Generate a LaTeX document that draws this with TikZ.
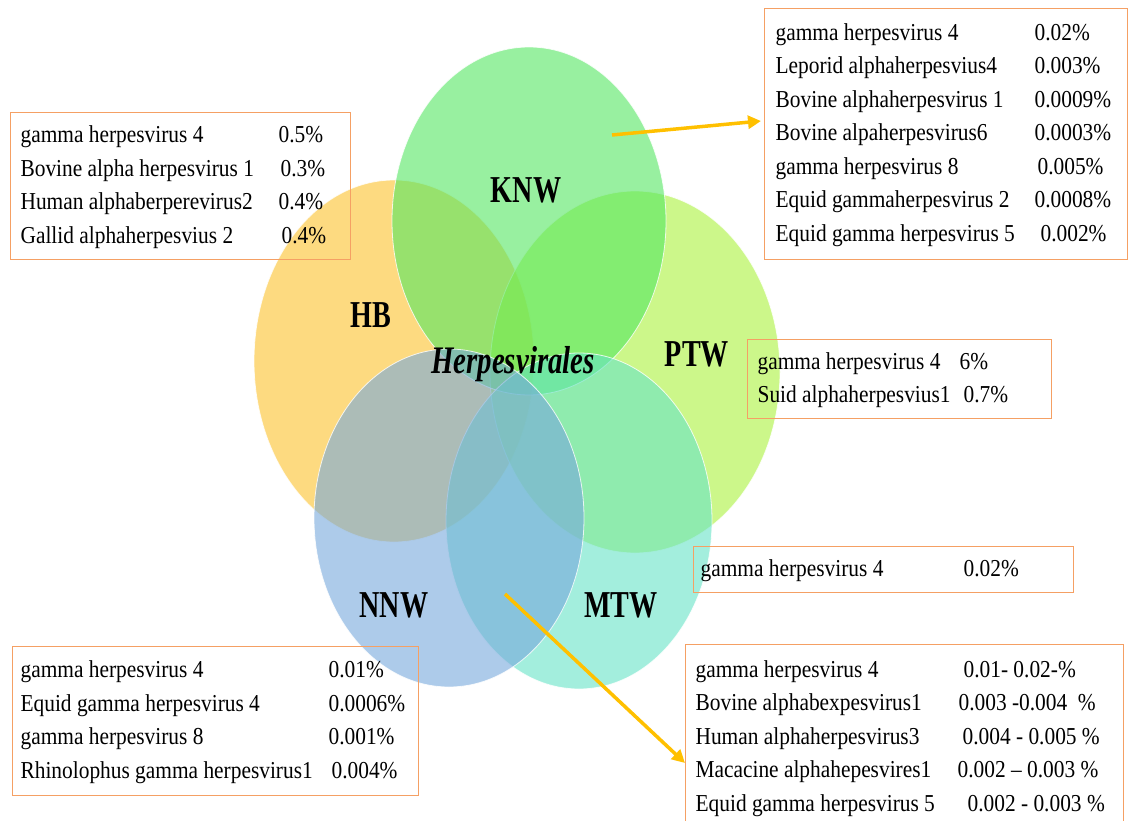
\documentclass[tikz,border=0pt]{standalone}
\usepackage{fontspec}
\setmainfont{Liberation Serif}
\newfontfamily\listfont[FakeStretch=0.88,Ligatures=TeX]{Liberation Serif}
\newfontfamily\setfont[FakeStretch=0.74,Ligatures=TeX]{Liberation Serif}
\usetikzlibrary{arrows.meta}

\definecolor{hbcol}{RGB}{252,193,43}
\definecolor{knwcol}{RGB}{83,230,97}
\definecolor{ptwcol}{RGB}{170,242,60}
\definecolor{nnwcol}{RGB}{118,168,220}
\definecolor{mtwcol}{RGB}{102,227,198}
\definecolor{boxorange}{RGB}{245,160,100}
\definecolor{arrowyellow}{RGB}{255,192,0}

\tikzstyle{setarea}=[fill opacity=0.6, draw=white, draw opacity=0.8, line width=0.8pt]
\tikzstyle{setname}=[anchor=base, inner sep=0pt, font=\setfont\fontsize{38}{40}\selectfont\bfseries]
\tikzstyle{listbox}=[draw=boxorange, line width=1.2pt, anchor=north west, font=\listfont\fontsize{24.3}{33.5}\selectfont]
\tikzstyle{pointer}=[draw=arrowyellow, line width=3.5pt, -{Triangle[length=13pt,width=13pt]}]

\begin{document}
\begin{tikzpicture}[x=1pt,y=-1pt]
\useasboundingbox (0,0) rectangle (1129,821);
\clip (0,0) rectangle (1129,821);

% the five sets
\filldraw[setarea, fill=hbcol] (394,361) ellipse [x radius=140pt, y radius=181pt];
\filldraw[setarea, fill=ptwcol] (635,372) ellipse [x radius=145pt, y radius=181pt];
\filldraw[setarea, fill=knwcol] (529,221) ellipse [x radius=137pt, y radius=174pt];
\filldraw[setarea, fill=mtwcol] (579,521) ellipse [x radius=133pt, y radius=168pt];
\filldraw[setarea, fill=nnwcol] (449,518) ellipse [x radius=135pt, y radius=169pt];

\node[setname] (knw) at (526,202) {KNW};
\node[setname] (hb) at (371,327) {HB};
\node[setname] (ptw) at (697,366) {PTW};
\node[setname] (nnw) at (394,617) {NNW};
\node[setname] (mtw) at (621,617) {MTW};
\node[setname, font=\setfont\fontsize{39}{40}\selectfont\bfseries\itshape] (order) at (513,373) {Herpesvirales};

% virus lists
\node[listbox, inner xsep=11pt, inner ysep=8.25pt] (knwbox) at (764,8) {%
\begin{tabular}{@{}p{259pt}@{}p{82pt}@{}}
gamma herpesvirus 4 & 0.02\% \\
Leporid alphaherpesvius4 & 0.003\% \\
Bovine alphaherpesvirus 1 & 0.0009\% \\
Bovine alpaherpesvirus6 & 0.0003\% \\
gamma herpesvirus 8 & \hspace{3pt}0.005\% \\
Equid gammaherpesvirus 2 & 0.0008\% \\
Equid gamma herpesvirus 5 & \hspace{6pt}0.002\% \\
\end{tabular}};

\node[listbox, inner xsep=10pt, inner ysep=6.5pt] (hbbox) at (10,112) {%
\begin{tabular}{@{}p{258pt}@{}p{62pt}@{}}
gamma herpesvirus 4 & 0.5\% \\
Bovine alpha herpesvirus 1 & \hspace{2pt}0.3\% \\
Human alphaberperevirus2 & 0.4\% \\
Gallid alphaherpesvius 2 & \hspace{3pt}0.4\% \\
\end{tabular}};

\node[listbox, inner xsep=10pt, inner ysep=6pt] (ptwbox) at (747,339) {%
\begin{tabular}{@{}p{202pt}@{}p{82pt}@{}}
gamma herpesvirus 4 & 6\% \\
Suid alphaherpesvius1 & \hspace{4pt}0.7\% \\
\end{tabular}};

\node[listbox, inner xsep=7pt, inner ysep=6pt] (mtwbox) at (693,546) {%
\begin{tabular}{@{}p{263pt}@{}p{103pt}@{}}
gamma herpesvirus 4 & 0.02\% \\
\end{tabular}};

\node[listbox, inner xsep=10pt, inner ysep=9pt] (mixbox) at (685,644) {%
\begin{tabular}{@{}p{262pt}@{}p{156pt}@{}}
gamma herpesvirus 4 & \hspace{6pt}0.01- 0.02-\% \\
Bovine alphabexpesvirus1 & \hspace{1pt}0.003 -0.004 ~\% \\
Human alphaherpesvirus3 & \hspace{5pt}0.004 - 0.005 \% \\
Macacine alphahepesvires1 & 0.002 – 0.003 \% \\
Equid gamma herpesvirus 5 & \hspace{10pt}0.002 - 0.003 \% \\
\end{tabular}};

\node[listbox, inner xsep=8pt, inner ysep=7.5pt] (nnwbox) at (12,646) {%
\begin{tabular}{@{}p{308pt}@{}p{82pt}@{}}
gamma herpesvirus 4 & 0.01\% \\
Equid gamma herpesvirus 4 & 0.0006\% \\
gamma herpesvirus 8 & 0.001\% \\
Rhinolophus gamma herpesvirus1 & \hspace{3pt}0.004\% \\
\end{tabular}};

% pointers
\coordinate (knwtip) at (612,135);
\coordinate (lenstip) at (505,594);
\draw[pointer] (knwtip) -- ([xshift=-3pt,yshift=-113pt]knwbox.north west);
\draw[pointer] (lenstip) -- ([yshift=-119pt]mixbox.north west);
\end{tikzpicture}
\end{document}
